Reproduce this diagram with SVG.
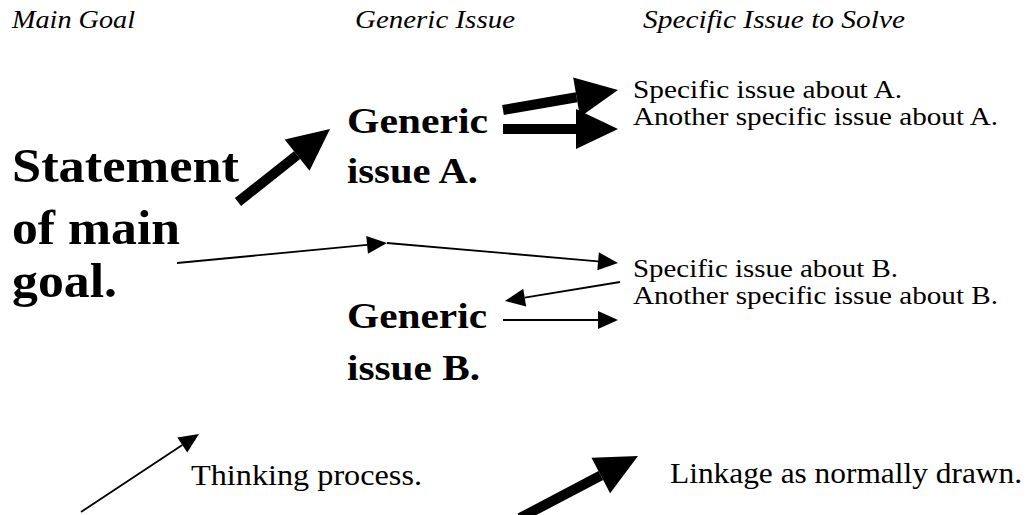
<svg xmlns="http://www.w3.org/2000/svg" width="1027" height="515" viewBox="0 0 1027 515" font-family="'Liberation Serif', 'Times New Roman', Times, serif">
  <style>
    text { font-family: "Liberation Serif", "Times New Roman", Times, serif; fill: #000; }
    .hdr { font-style: italic; font-size: 26px; }
    .big { font-weight: bold; font-size: 49px; }
    .gen { font-weight: bold; font-size: 36px; }
    .spec { font-size: 26px; }
    .leg { font-size: 30px; }
    .thick { stroke: #000; stroke-width: 10; fill: none; marker-end: url(#headThick); }
    .thin { stroke: #000; stroke-width: 1.8; fill: none; marker-end: url(#headThin); }
  </style>
  <defs>
    <marker id="headThick" markerUnits="userSpaceOnUse" viewBox="0 -20 42 40" markerWidth="42" markerHeight="40" refX="0" refY="0" orient="auto" overflow="visible">
      <path d="M0,-20 L42,0 L0,20 Z" fill="#000"/>
    </marker>
    <marker id="headThin" markerUnits="userSpaceOnUse" viewBox="0 -9 20 18" markerWidth="20" markerHeight="18" refX="0" refY="0" orient="auto" overflow="visible">
      <path d="M0,-9 L20,0 L0,9 Z" fill="#000"/>
    </marker>
  </defs>
  <rect width="1027" height="515" fill="#fff"/>

  <g id="headers">
    <text class="hdr" x="12" y="28" textLength="123" lengthAdjust="spacingAndGlyphs">Main Goal</text>
    <text class="hdr" x="355" y="28" textLength="160" lengthAdjust="spacingAndGlyphs">Generic Issue</text>
    <text class="hdr" x="643" y="28" textLength="262" lengthAdjust="spacingAndGlyphs">Specific Issue to Solve</text>
  </g>

  <g id="main-goal">
    <text class="big" x="12" y="182" textLength="227" lengthAdjust="spacingAndGlyphs">Statement</text>
    <text class="big" x="12" y="244" textLength="168" lengthAdjust="spacingAndGlyphs">of main</text>
    <text class="big" x="12" y="297" textLength="105" lengthAdjust="spacingAndGlyphs">goal.</text>
  </g>

  <g id="generic-a">
    <text class="gen" x="347" y="133" textLength="141" lengthAdjust="spacingAndGlyphs">Generic</text>
    <text class="gen" x="347" y="183" textLength="131" lengthAdjust="spacingAndGlyphs">issue A.</text>
  </g>

  <g id="generic-b">
    <text class="gen" x="347" y="328" textLength="140" lengthAdjust="spacingAndGlyphs">Generic</text>
    <text class="gen" x="347" y="380" textLength="133" lengthAdjust="spacingAndGlyphs">issue B.</text>
  </g>

  <g id="specific-a1">
    <text class="spec" x="633" y="98" textLength="269" lengthAdjust="spacingAndGlyphs">Specific issue about A.</text>
  </g>
  <g id="specific-a2">
    <text class="spec" x="633" y="125" textLength="365" lengthAdjust="spacingAndGlyphs">Another specific issue about A.</text>
  </g>
  <g id="specific-b1">
    <text class="spec" x="633" y="277" textLength="265" lengthAdjust="spacingAndGlyphs">Specific issue about B.</text>
  </g>
  <g id="specific-b2">
    <text class="spec" x="633" y="304" textLength="365" lengthAdjust="spacingAndGlyphs">Another specific issue about B.</text>
  </g>

  <g id="legend-thinking">
    <text class="leg" x="191" y="485" textLength="231" lengthAdjust="spacingAndGlyphs">Thinking process.</text>
  </g>
  <g id="legend-linkage">
    <text class="leg" x="670" y="483" textLength="352" lengthAdjust="spacingAndGlyphs">Linkage as normally drawn.</text>
  </g>

  <g id="connectors">
    <line class="thick" x1="238" y1="202" x2="297.1" y2="155.1"/>
    <line class="thick" x1="503" y1="110" x2="576.6" y2="97.2"/>
    <line class="thick" x1="503" y1="129" x2="576" y2="129"/>
    <line class="thin" x1="177" y1="263" x2="367.1" y2="244.9"/>
    <line class="thin" x1="387" y1="243" x2="598.1" y2="261.3"/>
    <line class="thin" x1="620" y1="282" x2="524.7" y2="297.7"/>
    <line class="thin" x1="503" y1="320" x2="598" y2="320"/>
    <line class="thin" x1="81" y1="512" x2="182.3" y2="445"/>
    <line class="thick" x1="520" y1="518" x2="600.8" y2="475.5"/>
  </g>
</svg>
